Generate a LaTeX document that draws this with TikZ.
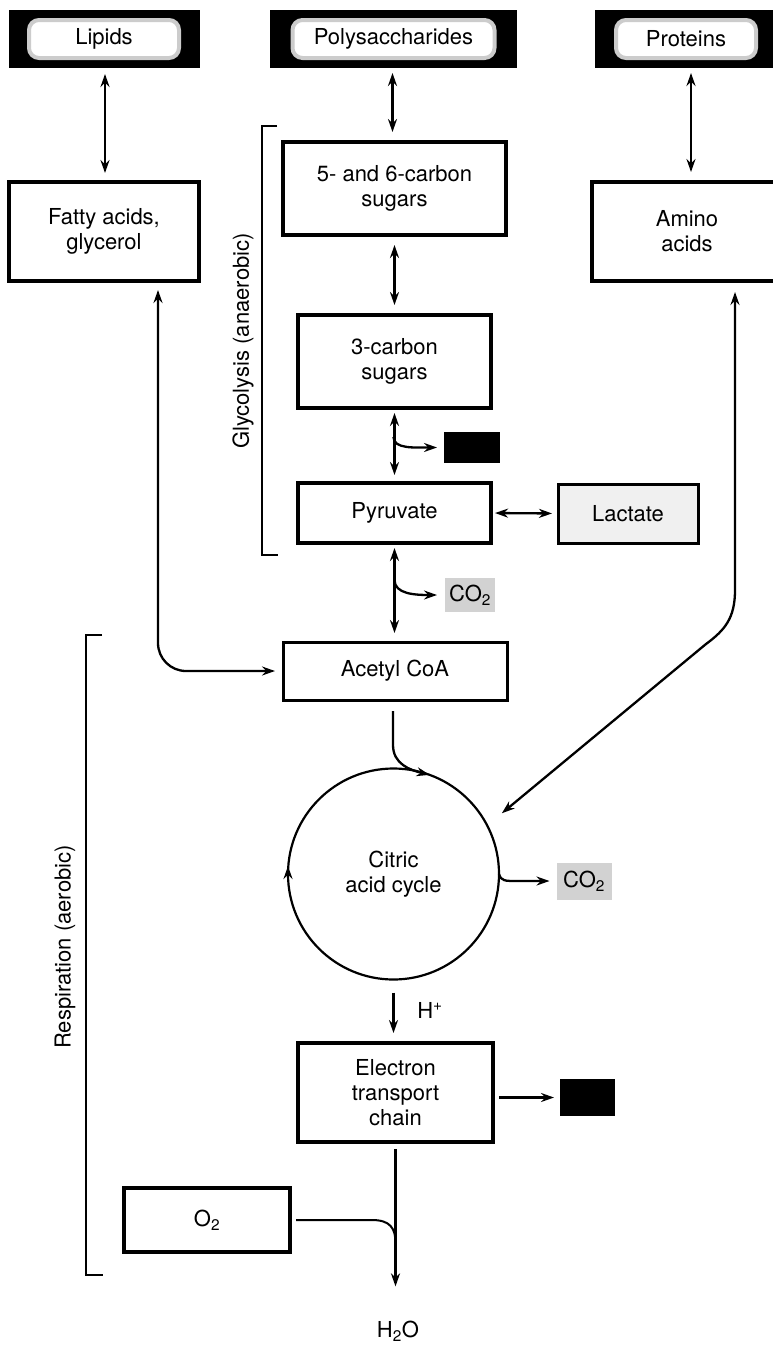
\documentclass[tikz,border=0pt]{standalone}
\usepackage{fontspec}
\setmainfont{TeX Gyre Heros}
\usetikzlibrary{calc,arrows.meta,positioning}

\begin{document}
\begin{tikzpicture}[
  x=1pt, y=-1pt,
  every node/.style={font=\fontsize{22}{25}\selectfont},
  >={Stealth[length=13pt,width=9pt]},
  flow/.style={line width=2.3pt},
  srcbox/.style={fill=black, inner sep=0pt, outer sep=0pt, minimum height=58pt},
  srcglow/.style={fill=white, draw=gray!40, line width=4pt, rounded corners=10pt,
    inner sep=0pt, minimum height=38pt},
  pathbox/.style={draw, line width=3.3pt, fill=white, align=center,
    inner sep=0pt, outer sep=0pt},
  atpbox/.style={fill=black, inner sep=0pt, outer sep=0pt},
  gasbox/.style={fill=gray!35, inner sep=1pt, outer sep=0pt},
  bracket/.style={line width=2.6pt},
]

\useasboundingbox (0,0) rectangle (772,1349);

% --- Sources ---
\node[srcbox, minimum width=191pt] (lipids) at (104,39) {};
\node[srcglow, minimum width=150pt] (lipidsT) at (lipids) {Lipids};
\node[srcbox, minimum width=247pt] (poly) at (393.5,39) {};
\node[srcglow, minimum width=202pt] (polyT) at (poly) {Polysaccharides};
\node[srcbox, minimum width=190pt] (proteins) at (690,39) {};
\node[srcglow, minimum width=140pt] (proteinsT) at (686,39) {Proteins};

% --- Glycolysis ---
\node[pathbox, minimum width=190pt, minimum height=99pt] (fatty) at (104,231.5) {Fatty acids,\\glycerol};
\node[pathbox, minimum width=223pt, minimum height=93pt] (sugars56) at (394.5,188.5) {5- and 6-carbon\\sugars};
\node[pathbox, minimum width=190pt, minimum height=99pt] (amino) at (687,231.5) {Amino\\acids};
\node[pathbox, minimum width=193pt, minimum height=93pt] (sugars3) at (394.5,361.5) {3-carbon\\sugars};
\node[pathbox, minimum width=193pt, minimum height=60pt] (pyruvate) at (394.5,513) {Pyruvate};
\node[pathbox, line width=3pt, fill=gray!12, minimum width=140pt, minimum height=59pt] (lactate) at (628,513.5) {Lactate};
\node[atpbox, minimum width=56pt, minimum height=31pt] (atp1) at (472,447.5) {};
\node[gasbox, minimum width=50pt, minimum height=34pt] (co2a) at (470,595) {CO\textsubscript{2}};

% --- Respiration ---
\node[pathbox, line width=3pt, minimum width=224pt, minimum height=58pt] (acetyl) at (395,671) {Acetyl CoA};
\node[circle, draw, line width=2.2pt, minimum size=211pt, inner sep=0pt, outer sep=0pt, align=center] (cycle) at (393.5,874) {Citric\\acid cycle};
\node[gasbox, minimum width=55pt, minimum height=37pt] (co2b) at (584,881) {CO\textsubscript{2}};
\node (hplus) at (430,1010) {H\textsuperscript{+}};
\node[pathbox, minimum width=195pt, minimum height=99pt] (etc) at (395.5,1092.5) {Electron\\transport\\chain};
\node[atpbox, minimum width=55pt, minimum height=37pt] (atp2) at (587.5,1097.5) {};
\node[pathbox, minimum width=166pt, minimum height=64pt] (o2) at (207,1220) {O\textsubscript{2}};
\node (h2o) at (398,1331) {H\textsubscript{2}O};

% --- Brackets ---
\draw[bracket] (277,126) -- (262,126) -- (262,555) -- (278,555);
\node[rotate=90] (glycoL) at (243,341) {Glycolysis (anaerobic)};
\draw[bracket] (102,635) -- (86,635) -- (86,1275) -- (103,1275);
\node[rotate=90] (respL) at (65,947) {Respiration (aerobic)};

% --- Connectors ---
\draw[flow, <->, shorten <=6pt, shorten >=9pt] ([xshift=1pt]lipids.south) -- ([xshift=1pt]fatty.north);
\draw[flow, <->, shorten <=5pt, shorten >=10pt] ([xshift=-1pt]poly.south) -- ([xshift=-1pt]poly.south |- sugars56.north);
\draw[flow, <->, shorten <=5pt, shorten >=10pt] ([xshift=1pt]proteins.south) -- ([xshift=1pt]proteins.south |- amino.north);
\draw[flow, <->, shorten <=10pt, shorten >=10pt] (sugars56.south) -- (sugars56.south |- sugars3.north);
\draw[flow, <->, shorten <=5pt, shorten >=8pt] (sugars3.south) -- (pyruvate.north);
\draw[flow, ->, shorten >=7pt] ($(sugars3.south)+(-1,29)$) .. controls +(0,12) and +(-30,0) .. (atp1.west);
\draw[flow, <->, shorten <=4pt, shorten >=6pt] (pyruvate.east) -- (lactate.west);
\draw[flow, <->, shorten <=5pt, shorten >=9pt] (pyruvate.south) -- (pyruvate.south |- acetyl.north);
\draw[flow, ->, shorten >=8pt] ($(pyruvate.south)+(0,37)$) .. controls +(0,14) and +(-30,0) .. (co2a.west);
\draw[flow, <->, rounded corners=28pt, shorten <=9pt, shorten >=8pt] ([xshift=54pt]fatty.south) |- (acetyl.west);
\draw[flow, <->, shorten <=11pt] ([xshift=48pt]amino.south) -- (735,590)
  .. controls (735,618) and (725,630) .. (706,644) -- ([xshift=17pt,yshift=8pt]cycle.30);
\draw[flow, ->, shorten <=11pt] ([xshift=-2pt]acetyl.south) -- (393,745)
  .. controls (393,764) and (410,770) .. (cycle.70);
\draw[line width=2.2pt, ->] ([yshift=-6pt]cycle.west) -- ([yshift=8pt]cycle.west);
\draw[flow, ->, shorten >=7pt] (cycle.east) .. controls (501,881) and (505,881) .. (517,881) -- (co2b.west);
\draw[flow, ->, shorten <=13pt, shorten >=10pt] (cycle.south) -- (cycle.south |- etc.north);
\draw[flow, ->, shorten <=6pt, shorten >=6pt] (etc.east |- atp2.west) -- (atp2.west);
\draw[flow, ->, shorten <=7pt, shorten >=31pt] (etc.south) -- (etc.south |- h2o.north);
\draw[line width=2pt] ([xshift=6pt]o2.east) -- (372,1220) .. controls (390,1220) and (395.5,1228) .. (395.5,1243);

\end{tikzpicture}
\end{document}
